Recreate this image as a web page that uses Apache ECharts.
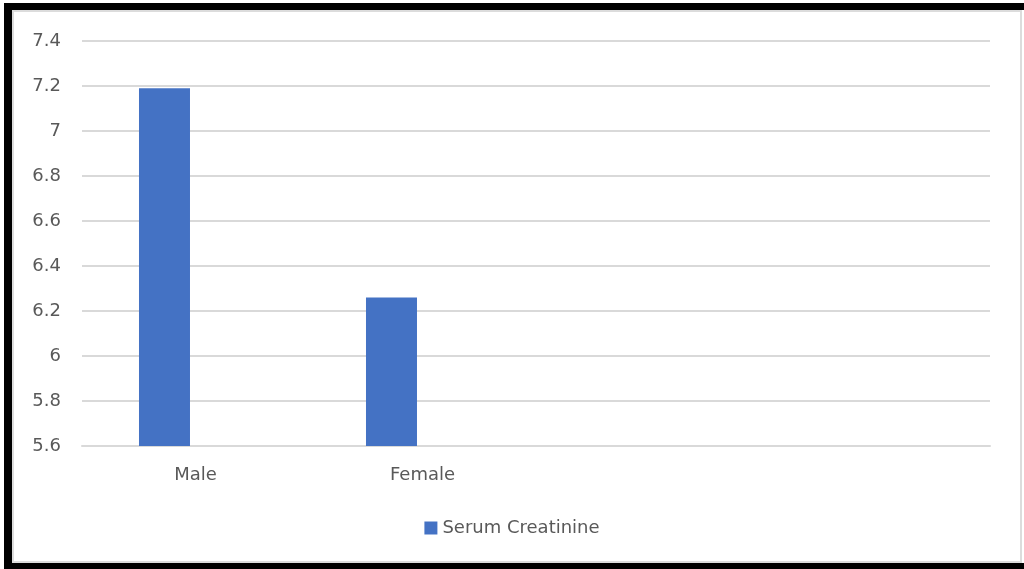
<!DOCTYPE html>
<html>
<head>
<meta charset="utf-8">
<script src="https://cdn.jsdelivr.net/npm/echarts@6/dist/echarts.min.js"></script>
<style>
  html, body { margin: 0; padding: 0; background: #ffffff; }
  #chart { position: absolute; left: 0; top: 0; width: 1024px; height: 569px; }
  #frame {
    position: absolute; left: 4px; top: 3px; width: 1020px; height: 566px;
    box-sizing: border-box;
    border-left: 8px solid #000; border-top: 7px solid #000; border-bottom: 6px solid #000;
    pointer-events: none; z-index: 2;
  }
  #inner {
    position: absolute; left: 0; top: 0; width: 1010px; height: 553px;
    box-sizing: border-box; border: 2px solid #dcdcdc;
  }
</style>
</head>
<body>
<div id="chart"></div>
<div id="frame"><div id="inner"></div></div>
<script>
// Mean serum creatinine by sex
const categories = ['Male', 'Female', '', ''];
const serumCreatinine = [7.19, 6.26, null, null];
// second series slot of the workbook chart, left empty
const emptySlot = [null, null, null, null];
const seriesName = 'Serum Creatinine';
const yMin = 5.6, yMax = 7.4, yStep = 0.2;

const textColor = '#595959';
const fontFamily = 'DejaVu Sans';

const chart = echarts.init(document.getElementById('chart'));
chart.setOption({
  animation: false,
  backgroundColor: '#ffffff',
  grid: { left: 82, right: 34, top: 41, bottom: 123 },
  legend: {
    data: [seriesName],
    left: 'center',
    top: 514,
    itemWidth: 13,
    itemHeight: 13,
    icon: 'rect',
    textStyle: { color: textColor, fontSize: 18, fontFamily: fontFamily }
  },
  xAxis: {
    type: 'category',
    data: categories,
    axisLine: { lineStyle: { color: '#d9d9d9', width: 2 } },
    axisTick: { show: false },
    axisLabel: {
      color: textColor, fontSize: 18, fontFamily: fontFamily,
      margin: 20, interval: 0
    }
  },
  yAxis: {
    type: 'value',
    min: yMin, max: yMax, interval: yStep,
    axisLine: { show: false },
    axisTick: { show: false },
    axisLabel: { color: textColor, fontSize: 18, fontFamily: fontFamily, margin: 21 },
    splitLine: { lineStyle: { color: '#d9d9d9', width: 2 } }
  },
  series: [{
    name: seriesName,
    type: 'bar',
    data: serumCreatinine,
    barWidth: 51,
    barGap: '21.6%',
    itemStyle: { color: '#4472C4' }
  }, {
    name: 'empty',
    type: 'bar',
    data: emptySlot,
    barWidth: 51,
    barGap: '21.6%',
    itemStyle: { color: '#ED7D31' }
  }]
});
</script>
</body>
</html>
